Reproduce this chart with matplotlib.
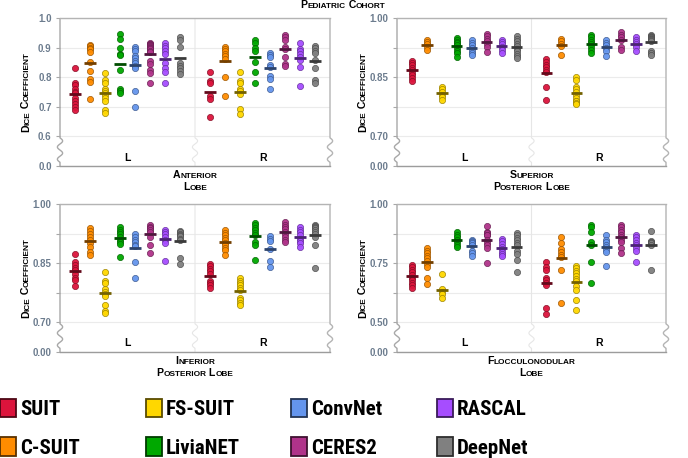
import numpy as np
import matplotlib
matplotlib.use('Agg')
import matplotlib.pyplot as plt
from matplotlib.patches import Patch
from matplotlib.transforms import IdentityTransform, blended_transform_factory
from matplotlib import font_manager, colors as mcolors

# ---------------- data ----------------
methods = ['SUIT', 'C-SUIT', 'FS-SUIT', 'LiviaNET', 'ConvNet', 'CERES2', 'RASCAL', 'DeepNet']
method_colors = ['#DC143C', '#FF8C00', '#FFD700', '#00A800', '#6495ED', '#B0338A', '#A64DFF', '#808080']
sides = ['L', 'R']
lobe_titles = ['Anterior\nLobe', 'Superior\nPosterior Lobe', 'Inferior\nPosterior Lobe', 'Flocculonodular\nLobe']
cohort_title = 'Pediatric Cohort'
y_title = 'Dice Coefficient'

anterior_L = [
    [0.83, 0.78, 0.775, 0.76, 0.75, 0.745, 0.73, 0.72, 0.71, 0.70, 0.69],
    [0.91, 0.905, 0.90, 0.895, 0.885, 0.85, 0.82, 0.795, 0.785, 0.725],
    [0.813, 0.79, 0.78, 0.76, 0.755, 0.745, 0.74, 0.73, 0.72, 0.69, 0.68],
    [0.945, 0.93, 0.90, 0.88, 0.875, 0.825, 0.76, 0.755, 0.745],
    [0.903, 0.895, 0.887, 0.872, 0.864, 0.855, 0.847, 0.838, 0.831, 0.755, 0.701],
    [0.915, 0.913, 0.912, 0.91, 0.908, 0.905, 0.902, 0.90, 0.898, 0.895, 0.89, 0.885, 0.855, 0.845, 0.825, 0.815, 0.78],
    [0.915, 0.906, 0.898, 0.887, 0.879, 0.848, 0.831, 0.817, 0.782],
    [0.935, 0.926, 0.901, 0.848, 0.839, 0.831, 0.82, 0.811],
]
anterior_R = [
    [0.816, 0.786, 0.78, 0.735, 0.727, 0.666],
    [0.903, 0.895, 0.887, 0.879, 0.87, 0.861, 0.80, 0.737],
    [0.816, 0.786, 0.78, 0.76, 0.752, 0.744, 0.693, 0.674],
    [0.926, 0.917, 0.899, 0.89, 0.85, 0.818, 0.781],
    [0.883, 0.876, 0.868, 0.842, 0.834, 0.803, 0.794, 0.76],
    [0.943, 0.935, 0.926, 0.903, 0.895, 0.868, 0.844, 0.839],
    [0.917, 0.895, 0.887, 0.879, 0.868, 0.859, 0.834, 0.771],
    [0.906, 0.898, 0.89, 0.883, 0.857, 0.831, 0.791, 0.782],
]
superior_L = [
    [0.892, 0.886, 0.880, 0.874, 0.867, 0.861, 0.855, 0.848, 0.840],
    [0.945, 0.939, 0.933, 0.926, 0.920],
    [0.825, 0.819, 0.813, 0.806, 0.799, 0.793],
    [0.949, 0.943, 0.940, 0.937, 0.931, 0.924, 0.917, 0.911, 0.901],
    [0.943, 0.937, 0.931, 0.924, 0.917, 0.911, 0.906],
    [0.960, 0.954, 0.948, 0.941, 0.934, 0.926, 0.914],
    [0.945, 0.939, 0.933, 0.926, 0.920, 0.911],
    [0.954, 0.948, 0.941, 0.934, 0.928, 0.922, 0.916, 0.909, 0.903, 0.899],
]
superior_R = [
    [0.895, 0.888, 0.882, 0.875, 0.869, 0.863, 0.825, 0.793],
    [0.948, 0.941, 0.934, 0.928, 0.906],
    [0.851, 0.844, 0.825, 0.819, 0.812, 0.806, 0.798, 0.79, 0.789, 0.785, 0.783],
    [0.958, 0.951, 0.945, 0.939, 0.933, 0.926, 0.920, 0.911],
    [0.943, 0.937, 0.931, 0.924, 0.917, 0.903],
    [0.965, 0.958, 0.951, 0.945, 0.926, 0.920],
    [0.951, 0.945, 0.939, 0.933, 0.926, 0.916],
    [0.956, 0.955, 0.953, 0.951, 0.95, 0.948, 0.946, 0.944, 0.941, 0.917, 0.911, 0.906],
]
inferior_L = [
    [0.874, 0.853, 0.845, 0.838, 0.832, 0.823, 0.813, 0.808, 0.791],
    [0.938, 0.931, 0.925, 0.917, 0.908, 0.90, 0.891, 0.879, 0.872],
    [0.828, 0.805, 0.80, 0.785, 0.778, 0.772, 0.768, 0.744, 0.73, 0.723],
    [0.942, 0.935, 0.93, 0.923, 0.917, 0.91, 0.904, 0.898, 0.866],
    [0.923, 0.917, 0.91, 0.904, 0.897, 0.893, 0.853, 0.812],
    [0.948, 0.942, 0.94, 0.935, 0.93, 0.917, 0.896, 0.877],
    [0.935, 0.93, 0.923, 0.917, 0.91, 0.901, 0.855],
    [0.931, 0.928, 0.925, 0.922, 0.918, 0.912, 0.91, 0.863, 0.849],
]
inferior_R = [
    [0.849, 0.842, 0.836, 0.829, 0.823, 0.806, 0.80, 0.794, 0.787],
    [0.934, 0.927, 0.921, 0.914, 0.908, 0.901, 0.896, 0.889, 0.883, 0.87],
    [0.813, 0.806, 0.80, 0.794, 0.787, 0.781, 0.761, 0.756, 0.749, 0.743],
    [0.952, 0.946, 0.94, 0.934, 0.927, 0.921, 0.904, 0.896, 0.859],
    [0.919, 0.912, 0.907, 0.885, 0.855, 0.84],
    [0.955, 0.948, 0.942, 0.936, 0.93, 0.923, 0.917, 0.91, 0.904],
    [0.941, 0.934, 0.928, 0.921, 0.912, 0.907, 0.90, 0.891],
    [0.948, 0.945, 0.942, 0.94, 0.935, 0.93, 0.923, 0.917, 0.896, 0.839],
]
floccular_L = [
    [0.744, 0.732, 0.721, 0.711, 0.699, 0.689, 0.678, 0.668, 0.657, 0.647],
    [0.813, 0.803, 0.792, 0.782, 0.771, 0.758, 0.746, 0.735, 0.687, 0.664],
    [0.704, 0.64, 0.63, 0.618, 0.601],
    [0.882, 0.87, 0.86, 0.849, 0.839, 0.828, 0.818],
    [0.849, 0.845, 0.839, 0.835, 0.828, 0.803, 0.792, 0.782],
    [0.906, 0.88, 0.877, 0.87, 0.868, 0.849, 0.835, 0.825, 0.815, 0.749],
    [0.853, 0.842, 0.832, 0.82, 0.811, 0.799, 0.789, 0.779],
    [0.877, 0.868, 0.856, 0.846, 0.835, 0.825, 0.803, 0.789, 0.764, 0.711],
]
floccular_R = [
    [0.754, 0.732, 0.721, 0.689, 0.678, 0.668, 0.658, 0.561, 0.536],
    [0.86, 0.836, 0.808, 0.796, 0.786, 0.775, 0.721, 0.583],
    [0.739, 0.729, 0.718, 0.707, 0.697, 0.685, 0.675, 0.654, 0.635, 0.593, 0.551],
    [0.913, 0.903, 0.882, 0.839, 0.828, 0.756, 0.665],
    [0.87, 0.849, 0.839, 0.828, 0.818, 0.806, 0.796, 0.739],
    [0.913, 0.903, 0.892, 0.882, 0.87, 0.86, 0.849, 0.839, 0.815, 0.792],
    [0.87, 0.86, 0.846, 0.835, 0.825, 0.815, 0.801, 0.754],
    [0.886, 0.843, 0.84, 0.838, 0.835, 0.825, 0.721],
]
lobe_data = [(anterior_L, anterior_R), (superior_L, superior_R),
             (inferior_L, inferior_R), (floccular_L, floccular_R)]

# y-axis break settings per lobe: (lower visible limit, tick step, labels)
axis_lo = [0.6, 0.70, 0.70, 0.50]
axis_step = [0.1, 0.075, 0.075, 0.125]
tick_labels = [['0.0', '0.6', '0.7', '0.8', '0.9', '1.0'],
               ['0.00', '0.70', '', '0.85', '', '1.00'],
               ['0.00', '0.70', '', '0.85', '', '1.00'],
               ['0.00', '0.50', '', '0.75', '', '1.00']]

# ---------------- style ----------------
W, H = 688, 458
names = {f.name for f in font_manager.fontManager.ttflist}
BASE = 'Liberation Sans' if 'Liberation Sans' in names else 'DejaVu Sans'
NARROW = BASE
for cand in ['Liberation Sans Narrow', 'Arial Narrow', 'Roboto Condensed', 'Open Sans Condensed']:
    if cand in names:
        NARROW = cand
        break
LEG_SIZE = 15 if NARROW != BASE else 13.5
plt.rcParams['font.family'] = [BASE, 'DejaVu Sans']

def darker(c, f=0.5):
    r, g, b = mcolors.to_rgb(c)
    return (r * f, g * f, b * f)

fig = plt.figure(figsize=(W / 100, H / 100), dpi=100)
renderer = fig.canvas.get_renderer()

def smallcaps(x, y, s, size, rotation=0, ratio=0.78, color='black'):
    """x,y in figure pixels (from bottom-left); text centred along its direction."""
    runs = []
    for ch in s:
        big = not ch.islower()
        if runs and runs[-1][1] == big:
            runs[-1][0] += ch
        else:
            runs.append([ch, big])
    items = []
    total = 0.0
    for r, big in runs:
        t = fig.text(0, 0, r.upper(), fontsize=size if big else size * ratio,
                     fontweight='bold', color=color, ha='left', va='baseline',
                     transform=IdentityTransform())
        w = t.get_window_extent(renderer).width
        items.append((t, w))
        total += w
    pos = -total / 2
    for t, w in items:
        if rotation == 0:
            t.set_position((x + pos, y))
        else:
            t.set_rotation(90)
            t.set_rotation_mode('anchor')
            t.set_position((x, y + pos))
        pos += w

def make_scale(lo, step):
    def fwd(y):
        y = np.asarray(y, float)
        return np.where(y >= lo, y, lo - step + y * step / lo)
    def inv(t):
        t = np.asarray(t, float)
        return np.where(t >= lo, t, (t - (lo - step)) * lo / step)
    return fwd, inv

def broken_vline(ax, x, f_lo, color, lw, wpx):
    amp = 2.6 / wpx
    top = np.array([[x, 1.0], [x, f_lo - 0.01]])
    ys = np.linspace(f_lo - 0.01, 0.025, 80)
    t = (ys - ys[0]) / (ys[-1] - ys[0])
    xs = x + amp * np.sin(2 * np.pi * 2.0 * t)
    wave = np.column_stack([xs, ys])
    bot = np.array([[x, 0.025], [x, 0.0]])
    pts = np.vstack([top, wave, bot])
    ax.plot(pts[:, 0], pts[:, 1], color=color, lw=lw, transform=ax.transAxes,
            clip_on=False, zorder=1.5, solid_capstyle='butt')

boxes = [(60, 18, 330, 166), (397, 18, 666, 166), (60, 204, 330, 352), (397, 204, 666, 352)]
offs = (np.arange(len(methods)) - 3.5) * 0.111

for k, (l, t, r, b) in enumerate(boxes):
    ax = fig.add_axes([l / W, 1 - b / H, (r - l) / W, (b - t) / H])
    lo, step = axis_lo[k], axis_step[k]
    ax.set_yscale('function', functions=make_scale(lo, step))
    ax.set_ylim(0, 1.0)
    ax.set_xlim(-0.5, 1.5)
    ax.set_yticks([0.0, lo, lo + step, lo + 2 * step, lo + 3 * step, 1.0])
    ax.set_yticklabels(tick_labels[k])
    ax.minorticks_off()
    ax.set_xticks([])
    ax.tick_params(axis='y', length=3, width=0.8, color='#a8a8a8', pad=3,
                   labelsize=7, labelcolor='#6c7c8e')
    for lab in ax.get_yticklabels():
        lab.set_fontweight('bold')
    ax.yaxis.grid(True, color='#ebebeb', lw=0.8)
    ax.set_axisbelow(True)
    for sp in ['left', 'right']:
        ax.spines[sp].set_visible(False)
    ax.spines['top'].set_color('#b4b4b4')
    ax.spines['top'].set_linewidth(1.0)
    ax.spines['bottom'].set_color('#9c9c9c')
    ax.spines['bottom'].set_linewidth(1.0)

    f_lo = ax.transAxes.inverted().transform(ax.transData.transform((0, lo)))[1]
    wpx = r - l
    broken_vline(ax, 0.0, f_lo, '#a8a8a8', 1.0, wpx)
    broken_vline(ax, 1.0, f_lo, '#b4b4b4', 1.0, wpx)
    broken_vline(ax, 0.5, f_lo, '#e6e6e6', 0.8, wpx)

    bt = blended_transform_factory(ax.transData, ax.transAxes)
    for j, side in enumerate(sides):
        ax.text(j, 8.5 / (b - t), side, transform=bt, ha='center', va='center',
                fontsize=7.5, fontweight='bold', color='black')
        for i, c in enumerate(method_colors):
            vals = np.array(lobe_data[k][j][i])
            x = j + offs[i]
            ax.scatter(np.full(len(vals), x), vals, s=20, color=c,
                       edgecolors=[darker(c, 0.6)], linewidths=0.5, zorder=3, alpha=0.95)
            ax.hlines(np.mean(vals), x - 0.042, x + 0.042, color=darker(c, 0.45),
                      lw=2.0, zorder=4)

    # axis titles (small caps)
    cx = (l + r) / 2
    line1, line2 = lobe_titles[k].split('\n')
    smallcaps(cx, H - (b + 12.5), line1, 7.6)
    smallcaps(cx, H - (b + 23.5), line2, 7.6)
    smallcaps(l - 31, H - (t + b) / 2, y_title, 7.6, rotation=90)

smallcaps(343, H - 8, cohort_title, 7.6)

# legend: four columns of two entries
col_x = [0, 146, 291, 437]
for c in range(4):
    handles = []
    for i in (2 * c, 2 * c + 1):
        handles.append(Patch(facecolor=method_colors[i], edgecolor=darker(method_colors[i], 0.35),
                             linewidth=1.3, label=methods[i]))
    fig.legend(handles=handles, loc='upper left', bbox_to_anchor=(col_x[c] / W, 1 - 398.5 / H),
               frameon=False, borderpad=0, borderaxespad=0, handlelength=0.75,
               handleheight=1.0, handletextpad=0.2, labelspacing=0.88,
               prop={'family': NARROW, 'weight': 'bold', 'size': LEG_SIZE})

fig.savefig('out.png', dpi=100)
